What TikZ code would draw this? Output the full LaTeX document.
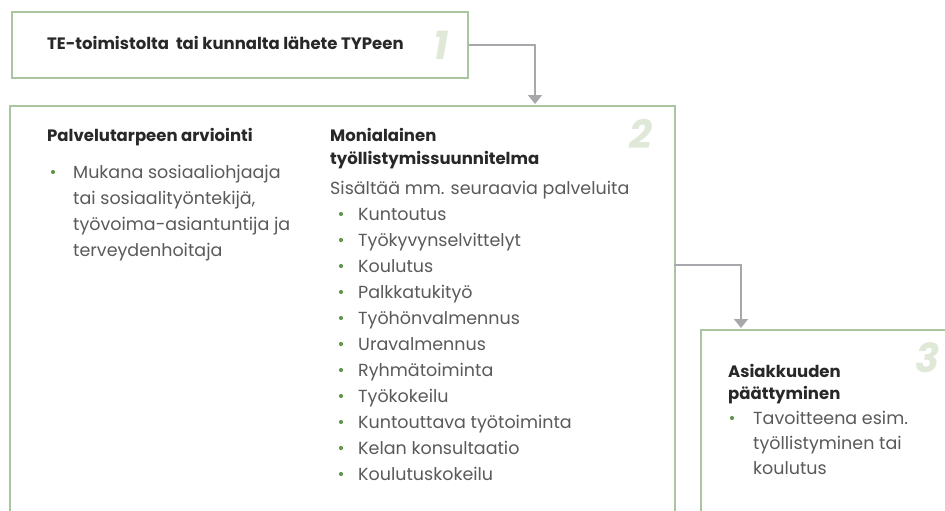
\documentclass[tikz,border=0pt]{standalone}
\usepackage{fontspec}
\setmainfont{Poppins}
\usetikzlibrary{arrows.meta}
\definecolor{boxgreen}{RGB}{170,198,160}
\definecolor{numgreen}{RGB}{224,233,216}
\definecolor{arrgray}{RGB}{168,168,172}
\definecolor{bulgreen}{RGB}{100,150,80}
\definecolor{txtgray}{RGB}{90,90,90}
\definecolor{hdgray}{RGB}{40,40,40}
\tikzset{
  box/.style={draw=boxgreen, line width=1.6pt, fill=white, anchor=north west, inner sep=0pt},
  num/.style={text=numgreen, font=\fontsize{40}{40}\selectfont\bfseries\itshape, anchor=center},
  arr/.style={draw=arrgray, line width=1.8pt, -{Triangle[width=14pt,length=9pt]}},
  hd/.style={anchor=base west, text=hdgray, font=\fontsize{16.5}{19}\selectfont\bfseries, inner sep=0pt},
  tx/.style={anchor=base west, text=txtgray, font=\fontsize{17.5}{20}\selectfont, inner sep=0pt},
  bul/.style={circle, fill=bulgreen, inner sep=0pt, minimum size=4.2pt},
}
\begin{document}
\begin{tikzpicture}[x=1pt,y=-1pt]
\useasboundingbox (0,0) rectangle (945,511);
\clip (0,0) rectangle (945,511);
\fill[white] (0,0) rectangle (945,511);
% boxes
\node[box, minimum width=456pt, minimum height=66pt] (b1) at (11,11) {};
\node[box, minimum width=665pt, minimum height=440pt] (b2) at (9,105) {};
\node[box, minimum width=300pt, minimum height=250pt] (b3) at (700,329) {};
% numbers
\node[num] (n1) at (441,45) {1};
\node[num] (n2) at (641,134) {2};
\node[num] (n3) at (928,358) {3};
% arrows
\coordinate (a1) at (535,104);
\draw[arr] (b1.east) -| (a1);
\coordinate (a2s) at (674,265);
\coordinate (a2) at (741,328);
\draw[arr] (a2s) -| (a2);
% box 1 text
\node[hd] (t1) at (47,50) {TE-toimistolta\ \ tai kunnalta lähete TYPeen};
% box 2 left column
\node[hd] (h2a) at (47,141) {Palvelutarpeen arviointi};
\node[bul] (p1) at (53,172) {};
\node[tx] (l1) at (73,178) {Mukana sosiaaliohjaaja};
\node[tx] (l2) at (73,204) {tai sosiaalityöntekijä,};
\node[tx] (l3) at (73,230) {työvoima-asiantuntija ja};
\node[tx] (l4) at (73,256) {terveydenhoitaja};
% box 2 right column
\node[hd] (h2b) at (330,141) {Monialainen};
\node[hd] (h2c) at (330,164) {työllistymissuunnitelma};
\node[tx] (s0) at (330,194) {Sisältää mm. seuraavia palveluita};
\foreach \t [count=\i] in {Kuntoutus,Työkyvynselvittelyt,Koulutus,Palkkatukityö,Työhönvalmennus,Uravalmennus,Ryhmätoiminta,Työkokeilu,Kuntouttava työtoiminta,Kelan konsultaatio,Koulutuskokeilu}{
  \node[bul] (sb\i) at (341,{214+26*(\i-1)}) {};
  \node[tx] (st\i) at (358,{220+26*(\i-1)}) {\t};
}
% box 3
\node[hd] (h3a) at (728,377) {Asiakkuuden};
\node[hd] (h3b) at (728,399) {päättyminen};
\node[bul] (q1) at (732,418) {};
\node[tx] (m1) at (753,424) {Tavoitteena esim.};
\node[tx] (m2) at (753,449) {työllistyminen tai};
\node[tx] (m3) at (753,474) {koulutus};
\end{tikzpicture}
\end{document}
